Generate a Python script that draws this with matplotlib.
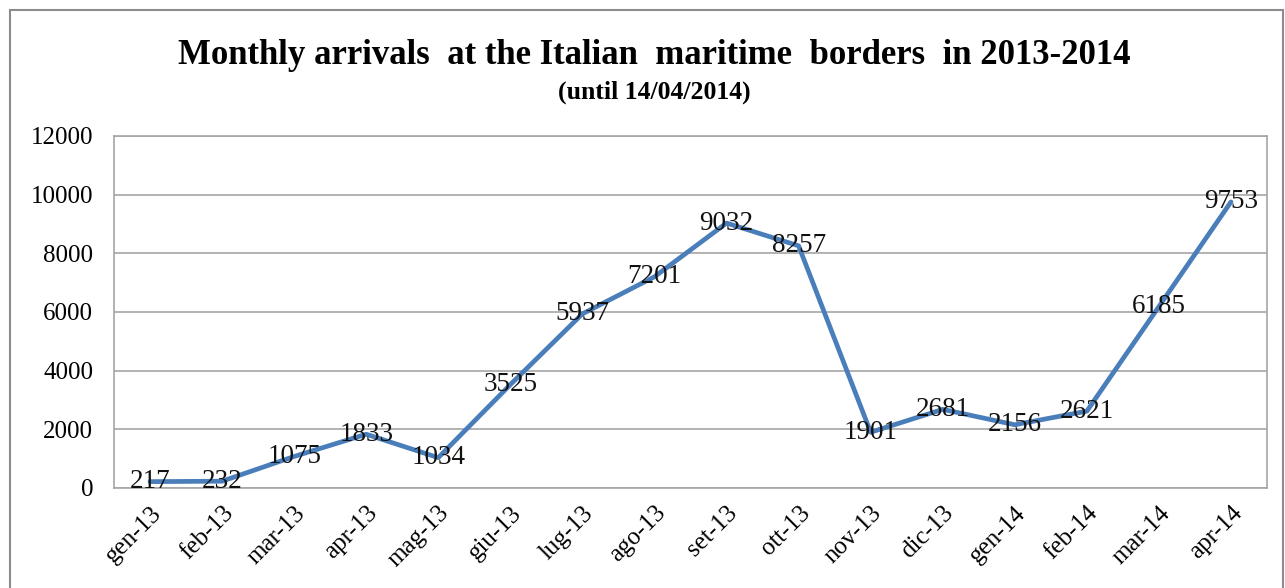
import matplotlib
matplotlib.use("Agg")
import matplotlib.pyplot as plt
from matplotlib.patches import Rectangle

months = ["gen-13", "feb-13", "mar-13", "apr-13", "mag-13", "giu-13", "lug-13", "ago-13",
          "set-13", "ott-13", "nov-13", "dic-13", "gen-14", "feb-14", "mar-14", "apr-14"]
arrivals = [217, 232, 1075, 1833, 1034, 3525, 5937, 7201,
            9032, 8257, 1901, 2681, 2156, 2621, 6185, 9753]
yticks = [0, 2000, 4000, 6000, 8000, 10000, 12000]

plt.rcParams['font.family'] = ['Liberation Serif', 'DejaVu Serif']

W, H = 1285, 588
fig = plt.figure(figsize=(W / 100, H / 100), dpi=100)
fig.patch.set_facecolor('white')

# outer chart border
fig.add_artist(Rectangle((10 / W, -0.05), (1283 - 10) / W, 1.05 - 10 / H,
                         transform=fig.transFigure, fill=False,
                         edgecolor='#8c8c8c', linewidth=1.5))

ax = fig.add_axes([114 / W, 1 - 488 / H, (1267 - 114) / W, (488 - 136) / H])
x = list(range(len(months)))
ax.plot(x, arrivals, color='#4a7ebb', linewidth=3.4, solid_capstyle='round', zorder=3)
for xi, v in zip(x, arrivals):
    ax.text(xi, v, str(v), ha='center', va='center', fontsize=19.5, color='#111111', zorder=4)

ax.set_xlim(-0.5, len(months) - 0.5)
ax.set_ylim(0, 12000)
ax.set_yticks(yticks)
ax.set_yticklabels([str(t) for t in yticks], fontsize=18)
ax.set_xticks(x)
ax.set_xticklabels(months, rotation=45, ha='right', rotation_mode='anchor', fontsize=18)
ax.tick_params(axis='both', length=0)
ax.tick_params(axis='y', pad=15)
ax.tick_params(axis='x', pad=10)
ax.grid(axis='y', color='#a6a6a6', linewidth=1.2)
ax.set_axisbelow(True)
for s in ax.spines.values():
    s.set_color('#a6a6a6')
    s.set_linewidth(1.2)

fig.text(654 / W, 1 - 55 / H, "Monthly arrivals  at the Italian  maritime  borders  in 2013-2014",
         ha='center', va='center', fontsize=25, fontweight='bold')
fig.text(654 / W, 1 - 92 / H, "(until 14/04/2014)", ha='center', va='center',
         fontsize=18.5, fontweight='bold')

fig.savefig("out.png", dpi=100)
